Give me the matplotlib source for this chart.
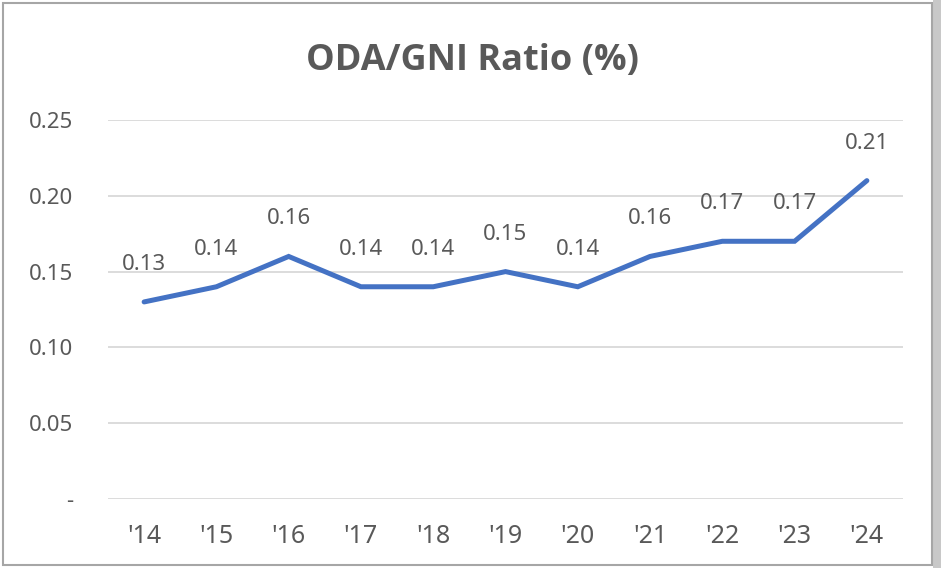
import matplotlib.pyplot as plt
from matplotlib.patches import Rectangle

years = ["'14", "'15", "'16", "'17", "'18", "'19", "'20", "'21", "'22", "'23", "'24"]
ratio = [0.13, 0.14, 0.16, 0.14, 0.14, 0.15, 0.14, 0.16, 0.17, 0.17, 0.21]
yticks = [0, 0.05, 0.10, 0.15, 0.20, 0.25]
ytick_labels = ["-", "0.05", "0.10", "0.15", "0.20", "0.25"]

plt.rcParams['font.family'] = ['Noto Sans', 'DejaVu Sans']
txt = '#595959'

fig = plt.figure(figsize=(9.41, 5.68), dpi=100)
W, H = 941, 568

# frame of the chart area and shadow on the right
fig.patches.append(Rectangle((933 / W, 0), 8 / W, 1, transform=fig.transFigure,
                             facecolor='#c8c8c8', edgecolor='none', zorder=-2))
fig.patches.append(Rectangle((3 / W, 3 / H), 929 / W, 562 / H, transform=fig.transFigure,
                             facecolor='white', edgecolor='#a6a6a6', linewidth=1.5, zorder=-1))

ax = fig.add_axes([108 / W, 1 - 499 / H, 795 / W, 379 / H])
ax.set_facecolor('none')
x = list(range(len(years)))
ax.plot(x, ratio, color='#4472C4', linewidth=3.6, solid_capstyle='round',
        solid_joinstyle='miter', zorder=3)

for xi, v in zip(x, ratio):
    ax.annotate(f"{v:.2f}", (xi, v), xytext=(0, 27), textcoords='offset points',
                ha='center', va='center', fontsize=16, color=txt)

ax.set_xlim(-0.5, len(years) - 0.5)
ax.set_ylim(0, 0.25)
ax.set_yticks(yticks)
ax.set_yticklabels(ytick_labels)
ax.set_xticks(x)
ax.set_xticklabels(years)
ax.tick_params(axis='both', length=0, colors=txt)
ax.tick_params(axis='y', pad=25, labelsize=16)
ax.tick_params(axis='x', pad=18, labelsize=18)
ax.grid(axis='y', color='#d9d9d9', linewidth=1.3)
for s in ax.spines.values():
    s.set_visible(False)

fig.text(473 / W, 1 - 61 / H, "ODA/GNI Ratio (%)", ha='center', va='center',
         fontsize=26, fontweight='bold', color=txt, family=['Open Sans', 'DejaVu Sans'])

fig.savefig('out.png', dpi=100)
